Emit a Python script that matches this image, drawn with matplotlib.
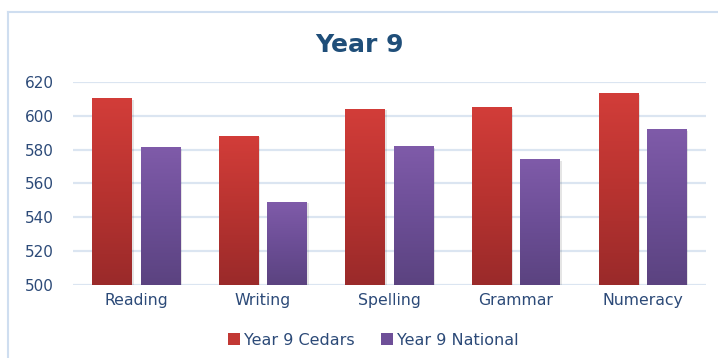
import numpy as np
import matplotlib
matplotlib.use("Agg")
import matplotlib.pyplot as plt
from matplotlib.colors import LinearSegmentedColormap
from matplotlib.patches import Patch
from matplotlib.lines import Line2D

categories = ["Reading", "Writing", "Spelling", "Grammar", "Numeracy"]
cedars = [610, 588, 604, 605, 613]
national = [581, 549, 582, 574, 592]
series_names = ["Year 9 Cedars", "Year 9 National"]
yticks = [500, 520, 540, 560, 580, 600, 620]

red_cm = LinearSegmentedColormap.from_list("red", ["#9a2a2a", "#b83330", "#d23d39"])
purple_cm = LinearSegmentedColormap.from_list("purple", ["#5b4380", "#6c4e96", "#7f5ba9"])
text_col = "#2c4a78"

fig = plt.figure(figsize=(7.18, 3.58), dpi=100)
ax = fig.add_axes([0.102, 0.204, 0.881, 0.567])

# outer chart frame (only left and top edges visible)
W, H = 718, 358
fig.lines.append(Line2D([8 / W, 8 / W], [0, 1 - 12 / H], transform=fig.transFigure,
                        color="#cfdef0", lw=1.5))
fig.lines.append(Line2D([8 / W, 1], [1 - 12 / H, 1 - 12 / H], transform=fig.transFigure,
                        color="#cfdef0", lw=1.5))

ymin = 500
width = 0.316
off = 0.19
x = np.arange(len(categories))
grad = np.linspace(0, 1, 256).reshape(-1, 1)

for vals, cm, sign in [(cedars, red_cm, -1), (national, purple_cm, 1)]:
    for xi, v in zip(x, vals):
        l = xi + sign * off - width / 2
        # soft shadow
        ax.bar(xi + sign * off + 0.012, v - ymin, width, bottom=ymin - 0.8,
               color="#000000", alpha=0.10, zorder=2, lw=0)
        ax.imshow(grad, cmap=cm, origin="lower", aspect="auto",
                  extent=(l, l + width, ymin, v), zorder=3, interpolation="bicubic")

ax.set_xlim(-0.5, len(categories) - 0.5)
ax.set_ylim(ymin, 620)
ax.set_yticks(yticks)
ax.set_xticks(x)
ax.set_xticklabels(categories)
ax.grid(axis="y", color="#dbe5f1", lw=1.6, zorder=0)
ax.set_axisbelow(True)
for s in ax.spines.values():
    s.set_visible(False)
ax.tick_params(length=0, colors=text_col)
ax.tick_params(axis="x", pad=6, labelsize=11.3)
ax.tick_params(axis="y", pad=14, labelsize=11)

fig.text(0.5, 0.874, "Year 9", ha="center", va="center", fontsize=18,
         fontweight="bold", color="#1f4e79")

handles = [Patch(facecolor="#c23834"), Patch(facecolor="#6e4f98")]
leg = fig.legend(handles, series_names, loc="center", bbox_to_anchor=(0.52, 0.05),
                 ncol=2, frameon=False, fontsize=11.5, handlelength=0.75, handleheight=0.75,
                 handletextpad=0.3, columnspacing=1.6)
for t in leg.get_texts():
    t.set_color(text_col)

fig.savefig("out.png", dpi=100)
